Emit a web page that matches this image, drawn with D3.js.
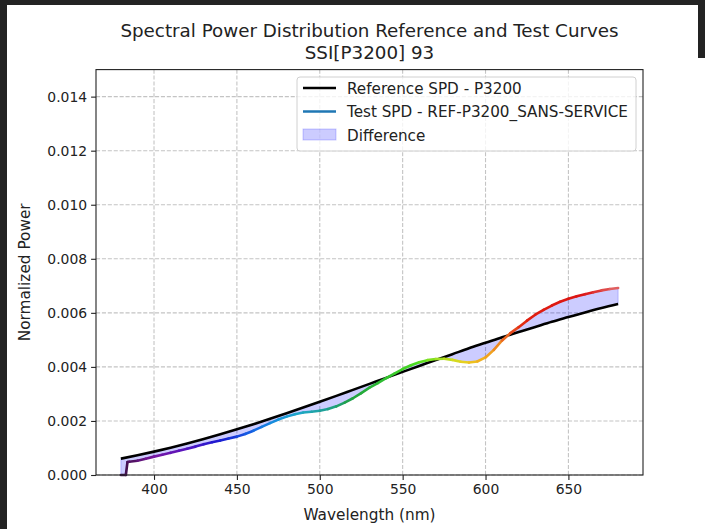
<!DOCTYPE html>
<html>
<head>
<meta charset="utf-8">
<script src="https://cdn.jsdelivr.net/npm/d3@7/dist/d3.min.js"></script>
<style>
  html, body { margin: 0; padding: 0; background: #ffffff; }
  svg { display: block; font-family: "DejaVu Sans", sans-serif; }
</style>
</head>
<body>
<svg id="chart" width="705" height="529"></svg>
<script>
// ---------------- data ----------------
const titleLines = ["Spectral Power Distribution Reference and Test Curves", "SSI[P3200] 93"];
const xLabel = "Wavelength (nm)";
const yLabel = "Normalized Power";
const xTicks = [400, 450, 500, 550, 600, 650];
const yTicks = [0.000, 0.002, 0.004, 0.006, 0.008, 0.010, 0.012, 0.014];
const legendLabels = ["Reference SPD - P3200", "Test SPD - REF-P3200_SANS-SERVICE", "Difference"];

const refWavelengths = [380, 390, 400, 410, 420, 430, 440, 450, 460, 470, 480, 490, 500,
  510, 520, 530, 540, 550, 560, 570, 580, 590, 600, 610, 620, 630, 640, 650, 660, 670, 680];
const refValues = [0.000605, 0.000730, 0.000865, 0.001010, 0.001165, 0.001330, 0.001505, 0.001690,
  0.001880, 0.002080, 0.002285, 0.002495, 0.002710, 0.002928, 0.003150, 0.003372, 0.003594, 0.003815,
  0.004033, 0.004255, 0.004470, 0.004688, 0.004892, 0.005098, 0.005288, 0.005478, 0.005668, 0.005842,
  0.006015, 0.006180, 0.006330];

const testWavelengths = [380, 383, 384, 385, 390, 395, 400, 405, 410, 415, 420, 425, 430, 435, 440,
  445, 450, 455, 460, 465, 470, 475, 480, 485, 490, 495, 500, 505, 510, 515, 520, 525, 530, 535,
  540, 545, 550, 555, 560, 565, 570, 575, 580, 585, 590, 595, 600, 605, 610, 615, 620, 625, 630,
  635, 640, 645, 650, 655, 660, 665, 670, 675, 680];
const testValues = [0, 0, 0.00048, 0.00049, 0.00053, 0.00060, 0.00068, 0.00075, 0.00082, 0.00090,
  0.00097, 0.00105, 0.00114, 0.00121, 0.00128, 0.00135, 0.00142, 0.00152, 0.00164, 0.00178,
  0.00192, 0.00205, 0.00216, 0.00225, 0.00231, 0.00234, 0.00238, 0.00244, 0.00254, 0.00268,
  0.00284, 0.00303, 0.00323, 0.00340, 0.00358, 0.00375, 0.00392, 0.00406, 0.00417, 0.00425,
  0.00429, 0.00430, 0.00426, 0.00419, 0.00416, 0.00420, 0.00435, 0.00463, 0.00498, 0.00525,
  0.00547, 0.00571, 0.00593, 0.00611, 0.00627, 0.00641, 0.00652, 0.00661, 0.00669, 0.00676,
  0.00683, 0.00688, 0.00692];

// colour stops for the wavelength-coloured test curve (style)
const spectrumStops = [380, 400, 420, 440, 460, 475, 490, 505, 520, 540, 560, 575, 585, 595, 605, 615, 625, 660, 680];
const spectrumColors = ["#3a1040", "#7a16a0", "#5514c0", "#1a1ad2", "#1464e4", "#1894dc", "#1fa8c4",
  "#1fa090", "#20a040", "#30c030", "#50e020", "#b0e020", "#e2d820", "#f0b820", "#f09a20",
  "#e85420", "#e02010", "#dc1414", "#e06a6a"];

// ---------------- layout ----------------
const svg = d3.select("#chart");
const W = 705, H = 529;
const plot = { left: 96, right: 643, top: 69.6, bottom: 475 };

svg.append("rect").attr("x", 0).attr("y", 0).attr("width", W).attr("height", H).attr("fill", "#ffffff");
// dark frame of the screenshot
svg.append("rect").attr("x", 0).attr("y", 0).attr("width", 7).attr("height", H).attr("fill", "#232323");
svg.append("rect").attr("x", 0).attr("y", 0).attr("width", W).attr("height", 5).attr("fill", "#232323");
svg.append("rect").attr("x", 698).attr("y", 0).attr("width", 7).attr("height", 58).attr("fill", "#232323");

const x = d3.scaleLinear().domain([365, 695]).range([plot.left, plot.right]);
const y = d3.scaleLinear().domain([0, 0.015]).range([plot.bottom, plot.top]);

// grid
const grid = svg.append("g");
grid.selectAll(".gx").data(xTicks).enter().append("line")
  .attr("x1", d => x(d)).attr("x2", d => x(d))
  .attr("y1", plot.top).attr("y2", plot.bottom)
  .attr("stroke", "#c4c4c4").attr("stroke-width", 1.1).attr("stroke-dasharray", "4.1,1.8");
grid.selectAll(".gy").data(yTicks).enter().append("line")
  .attr("x1", plot.left).attr("x2", plot.right)
  .attr("y1", d => y(d)).attr("y2", d => y(d))
  .attr("stroke", "#c4c4c4").attr("stroke-width", 1.1).attr("stroke-dasharray", "4.1,1.8");

// interpolated reference at test wavelengths for the fill
const refAt = d3.scaleLinear().domain(refWavelengths).range(refValues).clamp(true);
const testPts = testWavelengths.map((w, i) => ({ w: w, t: testValues[i], r: refAt(w) }));

// difference fill
const area = d3.area()
  .x(d => x(d.w))
  .y0(d => y(d.t))
  .y1(d => y(d.r));
svg.append("path").datum(testPts)
  .attr("d", area)
  .attr("fill", "rgba(0,0,255,0.2)")
  .attr("stroke", "rgba(0,0,255,0.2)")
  .attr("stroke-width", 1);

// reference line
const refPts = refWavelengths.map((w, i) => ({ w: w, v: refValues[i] }));
const line = d3.line().x(d => x(d.w)).y(d => y(d.v)).curve(d3.curveMonotoneX);
svg.append("path").datum(refPts)
  .attr("d", line)
  .attr("fill", "none")
  .attr("stroke", "#000000")
  .attr("stroke-width", 2.6)
  .attr("stroke-linejoin", "round");

// test line coloured by wavelength
const specColor = d3.scaleLinear().domain(spectrumStops).range(spectrumColors).clamp(true);
const segs = [];
for (let i = 0; i < testPts.length - 1; i++) {
  segs.push({ a: testPts[i], b: testPts[i + 1] });
}
svg.append("g").selectAll("line").data(segs).enter().append("line")
  .attr("x1", d => x(d.a.w)).attr("y1", d => y(d.a.t))
  .attr("x2", d => x(d.b.w)).attr("y2", d => y(d.b.t))
  .attr("stroke", d => specColor((d.a.w + d.b.w) / 2))
  .attr("stroke-width", 2.6)
  .attr("stroke-linecap", "round");

// axes
const xAxis = d3.axisBottom(x).tickValues(xTicks).tickSize(4.9).tickPadding(4).tickFormat(d3.format("d"));
const yAxis = d3.axisLeft(y).tickValues(yTicks).tickSize(4.9).tickPadding(4).tickFormat(d3.format(".3f"));
const gx = svg.append("g").attr("transform", `translate(0,${plot.bottom})`).call(xAxis);
const gy = svg.append("g").attr("transform", `translate(${plot.left},0)`).call(yAxis);
[gx, gy].forEach(g => {
  g.select(".domain").remove();
  g.selectAll(".tick line").attr("stroke", "#222").attr("stroke-width", 1.1);
  g.selectAll(".tick text").attr("fill", "#222").style("font-size", "13.9px")
    .style("font-family", "'DejaVu Sans', sans-serif");
});

// frame
svg.append("rect")
  .attr("x", plot.left).attr("y", plot.top)
  .attr("width", plot.right - plot.left).attr("height", plot.bottom - plot.top)
  .attr("fill", "none").attr("stroke", "#222").attr("stroke-width", 1.1);

// titles
svg.append("text").attr("x", (plot.left + plot.right) / 2).attr("y", 37)
  .attr("text-anchor", "middle").style("font-size", "18.3px").attr("fill", "#222").text(titleLines[0]);
svg.append("text").attr("x", (plot.left + plot.right) / 2).attr("y", 59)
  .attr("text-anchor", "middle").style("font-size", "18.3px").attr("fill", "#222").text(titleLines[1]);

svg.append("text").attr("x", (plot.left + plot.right) / 2).attr("y", 520)
  .attr("text-anchor", "middle").style("font-size", "15.3px").attr("fill", "#222").text(xLabel);
svg.append("text").attr("transform", `translate(30,${(plot.top + plot.bottom) / 2}) rotate(-90)`)
  .attr("text-anchor", "middle").style("font-size", "15.3px").attr("fill", "#222").text(yLabel);

// legend
const lg = svg.append("g");
lg.append("rect").attr("x", 297).attr("y", 77).attr("width", 339).attr("height", 74)
  .attr("rx", 3).attr("fill", "rgba(255,255,255,0.8)").attr("stroke", "#d0d0d0").attr("stroke-width", 1);
const rowY = [88, 111.5, 135];
lg.append("line").attr("x1", 303).attr("x2", 336).attr("y1", rowY[0]).attr("y2", rowY[0])
  .attr("stroke", "#000").attr("stroke-width", 2.6);
lg.append("line").attr("x1", 303).attr("x2", 336).attr("y1", rowY[1]).attr("y2", rowY[1])
  .attr("stroke", "#1f77b4").attr("stroke-width", 2.6);
lg.append("rect").attr("x", 303).attr("y", rowY[2] - 6).attr("width", 33).attr("height", 11)
  .attr("fill", "rgba(0,0,255,0.2)").attr("stroke", "rgba(0,0,255,0.2)");
legendLabels.forEach((t, i) => {
  lg.append("text").attr("x", 347).attr("y", rowY[i] + 5.5)
    .style("font-size", "15.2px").attr("fill", "#222").text(t);
});
</script>
</body>
</html>
